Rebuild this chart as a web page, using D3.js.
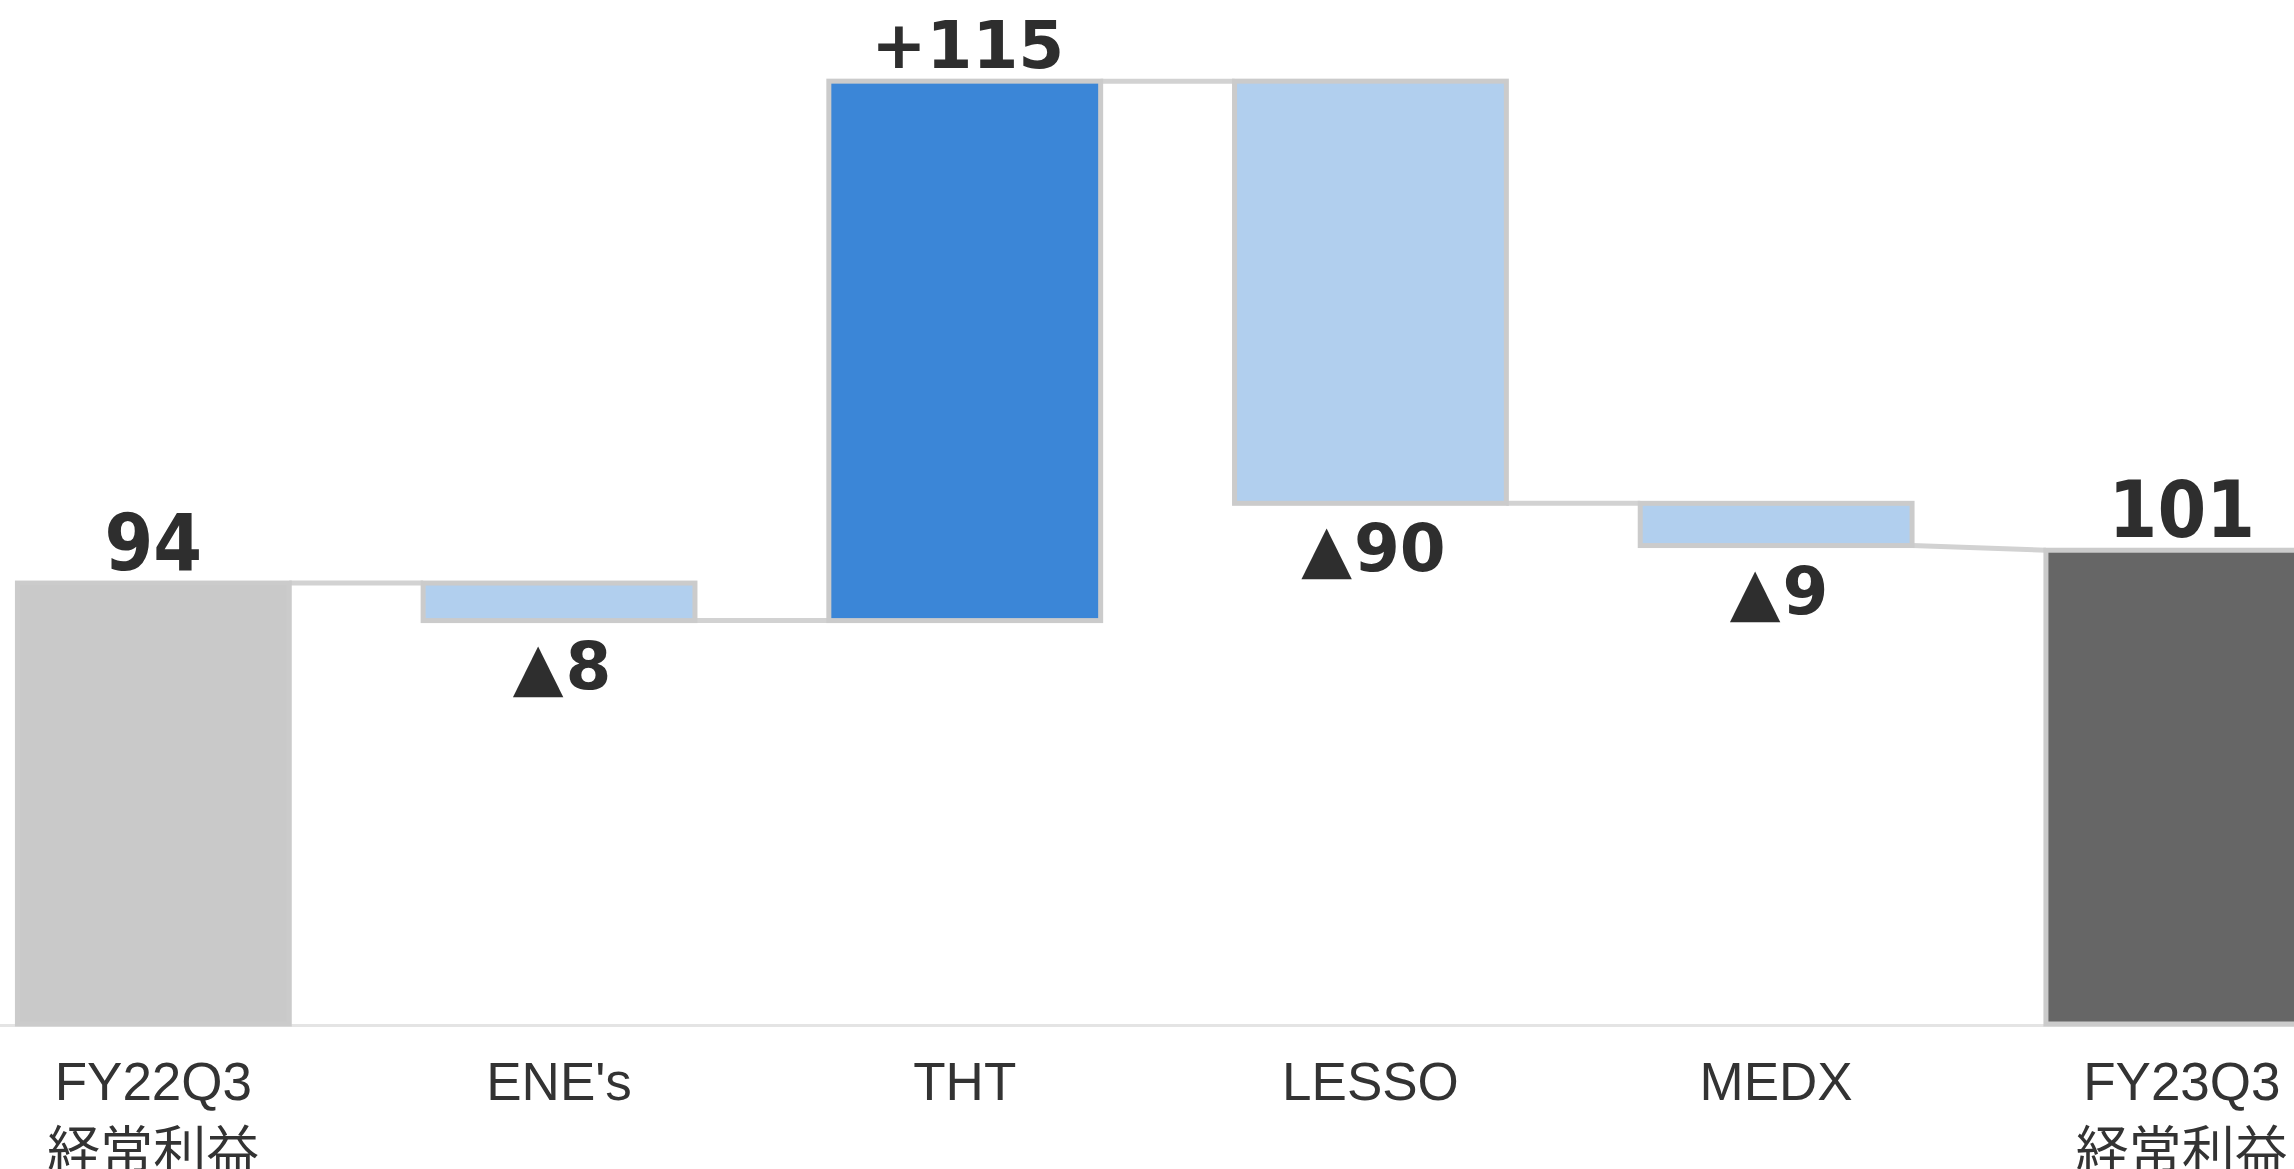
<!DOCTYPE html>
<html>
<head>
<meta charset="utf-8">
<script src="https://cdn.jsdelivr.net/npm/d3@7"></script>
<style>
  html, body { margin: 0; padding: 0; background: #ffffff; overflow: hidden; }
  svg { display: block; }
</style>
</head>
<body>
<svg id="chart"></svg>
<script>
// ---- data ----
const categories = ["FY22Q3\n経常利益", "ENE's", "THT", "LESSO", "MEDX", "FY23Q3\n経常利益"];
const values = [94, -8, 115, -90, -9, 101];
const barTypes = ["total", "delta", "delta", "delta", "delta", "total"];
const valueLabels = ["94", "▲8", "+115", "▲90", "▲9", "101"];
const barColors = ["#c9c9c9", "#b1cfee", "#3b86d7", "#b1cfee", "#b1cfee", "#666666"];

// ---- layout ----
const W = 2294, H = 1169;
const svg = d3.select("#chart").attr("width", W).attr("height", H);
const font = "'Liberation Sans', Arial, 'Noto Sans CJK JP', sans-serif";
const totalFont = "'DejaVu Sans Condensed', 'DejaVu Sans', sans-serif";
const deltaFont = "'DejaVu Sans', sans-serif";

const x = d3.scaleBand().domain(categories)
  .range([-49.5, 2384.7]).paddingInner(0.33).paddingOuter(0.165);
const y = d3.scaleLinear().domain([0, 218.3]).range([1024, 0]);

// waterfall computation
let cum = 0;
const bars = categories.map((c, i) => {
  let start, end;
  if (barTypes[i] === "total") { start = 0; end = values[i]; cum = values[i]; }
  else { start = cum; end = cum + values[i]; cum = end; }
  return { cat: c, start, end, type: barTypes[i], v: values[i], label: valueLabels[i], color: barColors[i] };
});

// axis (baseline + category labels)
const axis = svg.append("g").attr("transform", `translate(0,${y(0) + 1})`)
  .call(d3.axisBottom(x).tickSize(0).tickSizeOuter(0).tickPadding(0));
axis.select(".domain").attr("stroke", "#e4e4e4").attr("stroke-width", 3);
axis.selectAll(".tick text")
  .attr("font-family", font).attr("font-size", 53).attr("fill", "#333333")
  .attr("y", 0).attr("dy", null)
  .each(function(d) {
    const t = d3.select(this);
    const lines = d.split("\n");
    t.text(null);
    lines.forEach((ln, k) => {
      t.append("tspan").attr("x", 0).attr("y", 75 + k * 70).text(ln);
    });
  });

// connectors
const conn = [];
for (let i = 0; i < bars.length - 1; i++) {
  const a = bars[i], b = bars[i + 1];
  const from = a.end;
  const to = b.type === "total" ? b.end : b.start;
  conn.push({ x1: x(a.cat) + x.bandwidth(), y1: from, x2: x(b.cat), y2: to });
}
svg.append("g").selectAll("line").data(conn).join("line")
  .attr("x1", d => d.x1).attr("x2", d => d.x2)
  .attr("y1", d => y(d.y1)).attr("y2", d => y(d.y2))
  .attr("stroke", "#d2d2d2").attr("stroke-width", 5);

// bars
svg.append("g").selectAll("rect").data(bars).join("rect")
  .attr("x", d => x(d.cat))
  .attr("width", x.bandwidth())
  .attr("y", d => y(Math.max(d.start, d.end)))
  .attr("height", d => Math.abs(y(d.start) - y(d.end)))
  .attr("fill", d => d.color)
  .attr("stroke", "#cbcbcb").attr("stroke-width", 5);

// value labels
svg.append("g").selectAll("text").data(bars).join("text")
  .attr("x", d => x(d.cat) + x.bandwidth() / 2 + (d.type === "total" ? 0 : 3))
  .attr("y", d => d.v >= 0 ? y(Math.max(d.start, d.end)) - 13 : y(Math.min(d.start, d.end)) + 68)
  .attr("text-anchor", "middle")
  .attr("font-family", d => d.type === "total" ? totalFont : deltaFont)
  .attr("font-stretch", d => d.type === "total" ? "condensed" : "normal")
  .attr("font-weight", "bold")
  .attr("font-size", d => d.type === "total" ? 78 : 66)
  .attr("fill", "#2e2e2e")
  .each(function(d) {
    const t = d3.select(this);
    if (d.label.startsWith("▲")) {
      t.append("tspan").text("▲");
      t.append("tspan").attr("dx", 2).text(d.label.slice(1));
    } else {
      t.text(d.label);
    }
  });
</script>
</body>
</html>
